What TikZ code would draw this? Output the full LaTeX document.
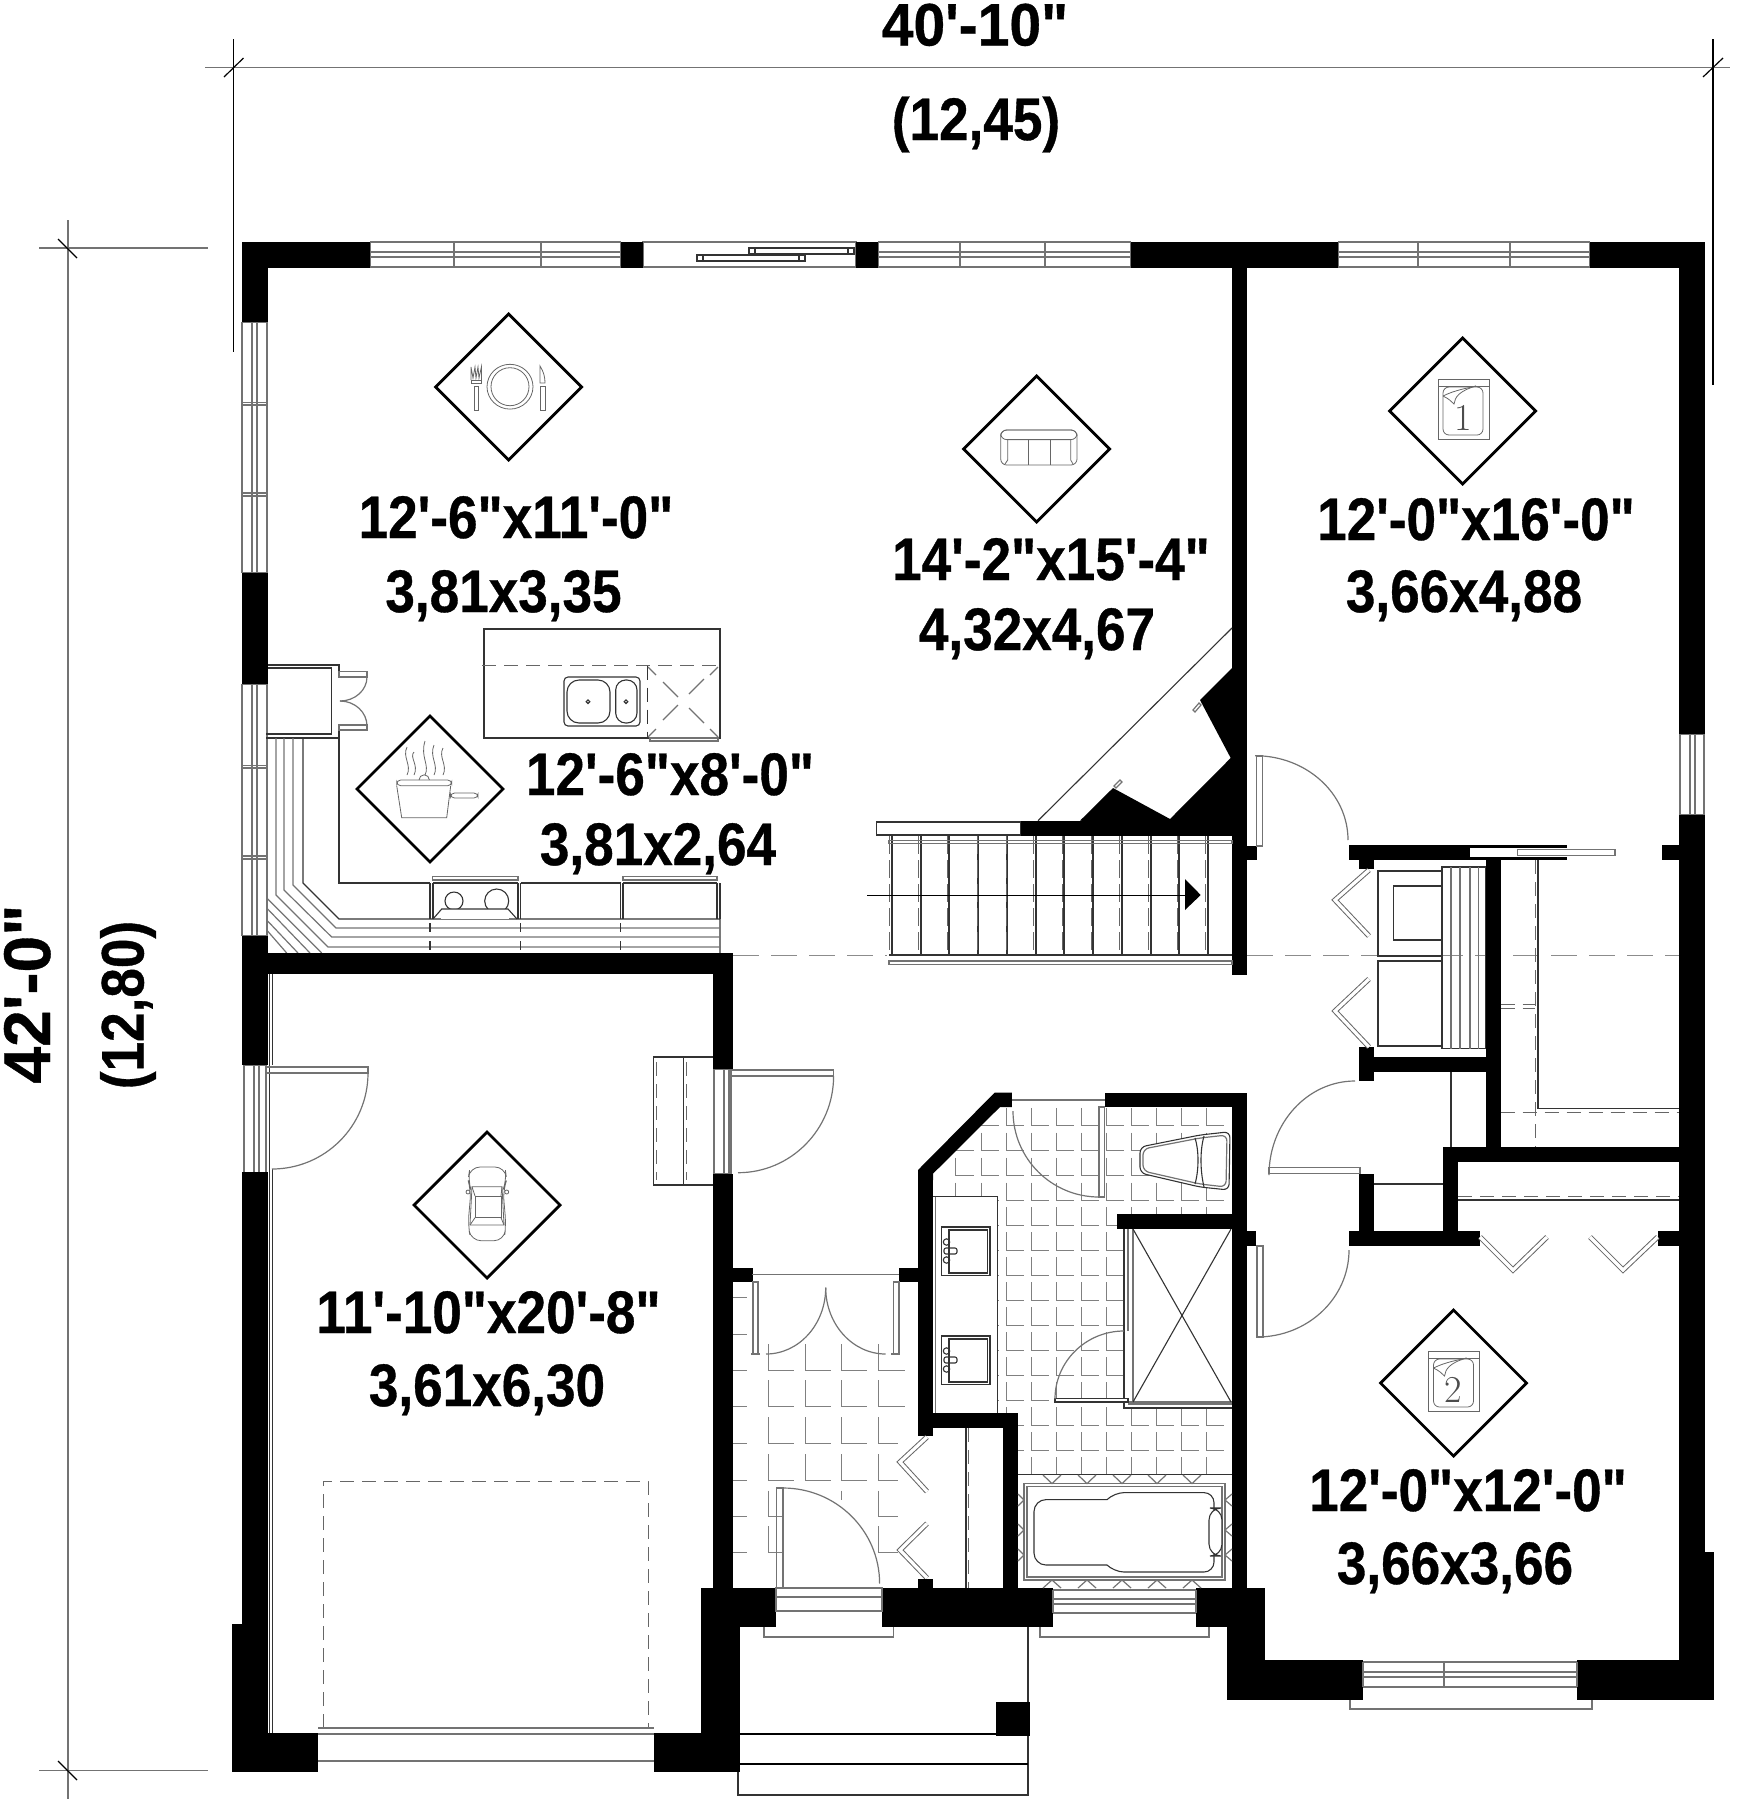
\documentclass[tikz,border=0pt]{standalone}
\usepackage{fontspec}
\newfontfamily\lab[FakeStretch=0.885,FakeBold=0.6,Ligatures=TeXOff]{Liberation Sans}
\newfontfamily\labw[FakeStretch=0.95,FakeBold=0.6,Ligatures=TeXOff]{Liberation Sans}
\newfontfamily\labh[FakeStretch=1.0,FakeBold=0.6,Ligatures=TeXOff]{Liberation Sans}
\tikzset{
  ln/.style={line width=0.55pt,draw=black!80},
  gl/.style={line width=0.6pt,draw=black!55},
  dl/.style={line width=0.6pt,draw=black!45,dash pattern=on 13pt off 6pt},
  ds/.style={line width=0.5pt,draw=black!60,dash pattern=on 7pt off 4pt},
  wall/.style={fill=black},
  dim/.style={line width=0.7pt,draw=black!55},
  tick/.style={line width=0.6pt,draw=black},
  tile/.style={line width=0.5pt,draw=black!50},
  dia/.style={line width=1.4pt,draw=black,miter limit=10},
  ic/.style={line width=0.4pt,draw=black!60},
  rm/.style={font=\lab\bfseries\fontsize{30}{30}\selectfont,anchor=base,inner sep=0pt},
  rmw/.style={font=\labw\bfseries\fontsize{30}{30}\selectfont,anchor=base,inner sep=0pt},
  rmh/.style={font=\labh\bfseries\fontsize{33}{33}\selectfont,anchor=base,inner sep=0pt},
}
\newcommand\W[4]{\fill[wall] (#1,#2) rectangle (#3,#4);}
\newcommand\ahv[4]{\draw[gl] (#1,#2) .. controls ({#1+0.5523*(#3-#1)},#2) and (#3,{#4-0.5523*(#4-#2)}) .. (#3,#4);}
\newcommand\avh[4]{\draw[gl] (#1,#2) .. controls (#1,{#2+0.5523*(#4-#2)}) and ({#3-0.5523*(#3-#1)},#4) .. (#3,#4);}
\newcommand\winH[4]{\draw[gl] (#1,#3) -- (#2,#3) (#1,{#3+10}) -- (#2,{#3+10}) (#1,{#3+15}) -- (#2,{#3+15}) (#1,#4) -- (#2,#4) (#1,#3) -- (#1,#4) (#2,#3) -- (#2,#4);}
\newcommand\winV[4]{\draw[gl] (#3,#1) -- (#3,#2) ({#3+10},#1) -- ({#3+10},#2) ({#3+15},#1) -- ({#3+15},#2) (#4,#1) -- (#4,#2) (#3,#1) -- (#4,#1) (#3,#2) -- (#4,#2);}
\newcommand\diam[2]{\draw[dia] ({#1-73},#2) -- (#1,{#2-73}) -- ({#1+73},#2) -- (#1,{#2+73}) -- cycle;}
\newcommand\bedicon[4]{\begin{scope}[shift={(#1,#2)}]
  \draw[ic] (-25,-32) rectangle (26,28);
  \draw[ic] (-25,-25) -- (26,-25);
  \draw[ic,rounded corners=3pt] (-20,-24) rectangle (20,24);
  \draw[ic] (-20,-15) .. controls (-8,-21) and (5,-23) .. (13,-25);
  \draw[ic] (-20,-15) .. controls (-14,-12) and (-12,-10) .. (-9,-7) .. controls (-8,-14) and (-4,-20) .. (13,-25);
  \node[inner sep=0pt,text=black!70,font=\fontsize{19}{19}\selectfont] (#4) at (0,7) {#3};
\end{scope}}
\newcommand\bifold[6]{\draw[line width=2.6pt,draw=black!60] (#1,#2) -- (#3,#4) -- (#5,#6);\draw[line width=1.6pt,draw=white] (#1,#2) -- (#3,#4) -- (#5,#6);}
\newcommand\sinkb[1]{\begin{scope}[shift={(0,#1)}]
  \draw[ln] (941.8,0) rectangle (990,48.5);
  \draw[ln] (949,3) rectangle (987.5,46);
  \draw[ln,rounded corners=1pt] (944,21) rectangle (957,27);
  \draw[ln] (946.5,15) circle (1.6pt);
  \draw[ln] (946.5,33) circle (1.6pt);
\end{scope}}
\begin{document}
\begin{tikzpicture}[x=0.5pt,y=-0.5pt]
\useasboundingbox (0,0) rectangle (1743,1800);
% dimensions
\draw[dim] (205,67.5) coordinate (dt1) -- (1730,67.5) coordinate (dt2);
\draw[tick] (233.5,39) -- (233.5,352);
\draw[tick] (1713,39) -- (1713,385);
\draw[tick] (224,77) -- (243.5,58);
\draw[tick] (1703,77) -- (1723,58);
\draw[dim] (68,220) -- (68,1799);
\draw[dim] (39,248) -- (208,248);
\draw[dim] (39,1770.5) -- (208,1770.5);
\draw[tick] (58,239) -- (77,258);
\draw[tick] (58,1761) -- (77,1780);
\node[rmw] (dimw) at (975,45.5) {40'-10"};
\node[rm] (dimwm) at (976,140) {(12,45)};
\node[rmh,rotate=90] (dimh) at (50,994) {42'-0"};
\node[rm,rotate=90] (dimhm) at (143.5,1005) {(12,80)};
% tiles bath
\begin{scope}
\clip (933,1173) -- (1000,1107) -- (1232,1107) -- (1232,1475) -- (1018,1475) -- (1018,1413) -- (933,1413) -- cycle;
\foreach \x in {955.7,981,1006.4,1031.4,1056,1081,1106,1131,1156,1181,1206}
  \foreach \y in {1125.8,1150.6,1175.7,1200.5,1225.3,1250,1275,1300,1325,1350,1375,1400,1425,1450,1475}
    \draw[tile] (\x,\y-18) -- (\x,\y) -- (\x+18,\y);
\end{scope}
% tiles foyer
\foreach \x in {768,805,841,878.6}
  \foreach \y in {1370,1406,1443,1480,1516.6,1552}
    \draw[tile] (\x,\y-26) -- (\x,\y) -- (\x+26,\y);
\foreach \y in {1297,1334,1370,1406,1443,1480,1516.6,1552}
  \draw[tile] (733,\y) -- (747,\y);
\fill[white] (784,1489) rectangle (830,1588);
\fill[white] (830,1500) rectangle (875,1588);
\fill[white] (898,1437) rectangle (935,1588);
% windows
\winH{370}{621}{242}{267}
\draw[gl] (454,242) -- (454,267) (541,242) -- (541,267);
\draw[gl] (643,242) rectangle (856,267);
\draw[ln] (749,248) rectangle (854,254);
\draw[ln] (697,255) rectangle (805,261);
\draw[ln] (697,255) rectangle (703,261) (799,255) rectangle (805,261) (749,248) rectangle (755,254) (848,248) rectangle (854,254);
\winH{878}{1131}{242}{267}
\draw[gl] (960,242) -- (960,267) (1045,242) -- (1045,267);
\winH{1338}{1590}{242}{267}
\draw[gl] (1418,242) -- (1418,267) (1510,242) -- (1510,267);
\winV{322}{573}{242}{267}
\draw[gl] (242,402.7) -- (267,402.7) (242,405) -- (267,405) (242,493) -- (267,493) (242,496) -- (267,496);
\winV{684}{936}{242}{267}
\draw[gl] (242,765.7) -- (267,765.7) (242,768) -- (267,768) (242,856) -- (267,856) (242,859) -- (267,859);
\winV{1065}{1173}{244}{266}
\draw[ln] (272.5,974) -- (272.5,1065) (272.5,1169) -- (272.5,1733) (269.5,974) -- (269.5,1733);
\winV{1069}{1174}{714}{731}
\winV{734}{815}{1680}{1704}
% garage door + dashed
\draw[ds] (323,1728) -- (323,1481) -- (648,1481) -- (648,1728);
\draw[gl] (318,1728) -- (654,1728) (318,1734) -- (654,1734) (318,1761) -- (654,1761);
% landing
\draw[ln] (713,1057) -- (653.7,1057) -- (653.7,1185) -- (713,1185);
\draw[ln] (683.4,1057) -- (683.4,1185);
\draw[ds] (656.5,1062) -- (656.5,1180) (686.5,1062) -- (686.5,1180);
% garage doors
\draw[gl] (265.6,1067) rectangle (368,1073);
\avh{368}{1073}{272}{1169}
\draw[gl] (731,1070) rectangle (833.6,1076);
\avh{833.6}{1076}{738}{1172.7}
% long dashed
\draw[dl] (733,955.5) -- (887,955.5);
\draw[dl] (1247,955.5) -- (1679,955.5);
% pantry
\draw[ln] (268,665) -- (339,665) -- (339,672) (268,668) -- (331.7,668) -- (331.7,734) -- (266,734) (266,738) -- (339,738) -- (339,726);
\draw[gl] (339,671.7) rectangle (367,677) (339,725) rectangle (367,730);
\avh{367}{677}{340}{701}
\avh{367}{726}{340}{701}
% kitchen counter
\draw[ln] (339,738) -- (339,883) -- (430,883) (520.7,883) -- (620.7,883);
\draw[ln] (303,738) -- (303,883) -- (339,919) -- (720,919) -- (720,953);
\draw[gl] (293,738) -- (293,885) -- (336,928) -- (720,928);
\draw[gl] (284,738) -- (284,890) -- (331.7,937) -- (720,937);
\draw[gl] (276,738) -- (276,895) -- (328,947) -- (720,947);
\draw[gl] (266.7,898) -- (321.7,953) (266.7,908) -- (310,953) (266.7,920) -- (298,953) (266.7,930) -- (286.7,953);
% range
\draw[ln] (430,883) -- (430,919) (433,883) -- (433,919) (518,883) -- (518,919) (520.7,883) -- (520.7,919);
\draw[ln] (433,883) -- (518,883);
\draw[gl] (432.7,876.7) rectangle (518,880);
\draw[ln] (454,901) circle (4.5pt);
\draw[ln] (496.7,901) circle (6pt);
\fill[white] (441,909.3) rectangle (509,919);
\draw[ln] (433,919) -- (441.7,909) -- (508,909) -- (517,919);
% dishwasher
\draw[ln] (620.7,883) -- (620.7,919) (623,883) -- (623,919) (717,883) -- (717,919) (720,883) -- (720,919);
\draw[ln] (623,883) -- (717,883);
\draw[gl] (623,876.7) rectangle (717,880);
\foreach \x in {430,520.7,620.7} \draw[ln] (\x,923) -- (\x,932) (\x,941) -- (\x,950);
% island
\draw[ln] (484,629) rectangle (720,738);
\draw[ds] (482,665.7) -- (720,665.7);
\draw[ds,draw=black!80] (647,665.7) -- (647,738);
\draw[gl] (650,741) rectangle (718,738);
\draw[gl] (648,667) -- (656,675) (718,667) -- (710,675) (648,737) -- (656,729) (718,737) -- (710,729);
\draw[gl] (663,720) -- (678,705) (689,694) -- (704,679) (663,682) -- (678,697) (689,708) -- (704,723);
\draw[ln,rounded corners=2pt] (564,677) rectangle (640,726);
\draw[ln,rounded corners=6pt] (567,680) rectangle (610,723);
\draw[ln,rounded corners=5pt] (615.7,680) rectangle (637,723);
\draw[ln] (588,701.7) circle (0.9pt) (626,701.7) circle (0.9pt);
% walls NW
\W{242}{242}{370}{268}
\W{242}{242}{268}{322}
\W{621}{242}{643}{268}
\W{856}{242}{878}{268}
\W{1131}{242}{1338}{268}
\W{1590}{242}{1705}{268}
\W{242}{573}{268}{684}
\W{242}{936}{268}{974}
\W{242}{953}{733}{974}
\W{713}{953}{733}{1069}
\W{242}{974}{268}{1065}
\W{242}{1172}{268}{1624}
\W{232}{1624}{268}{1772}
\W{232}{1733}{318}{1772}
\W{654}{1733}{740}{1772}
\W{701}{1627}{740}{1733}
\W{701}{1588}{776}{1627}
\W{713}{1174}{733}{1588}
\W{882}{1588}{1053}{1627}
\W{1196}{1588}{1265}{1627}
\W{1227}{1627}{1265}{1660}
\W{1227}{1660}{1363}{1700}
\W{1577}{1660}{1714}{1700}
\W{1679}{1552}{1714}{1660}
\W{1679}{242}{1705}{734}
\W{1679}{815}{1705}{1552}
\W{1661.7}{845}{1679}{860}
\W{1232}{268}{1247}{975}
\W{1247}{845.7}{1257}{860}
% stairs
\draw[ln] (1038,820.7) -- (1232,628);
\draw[ln,fill=white] (876.7,822) rectangle (1020.7,835);
\W{1020.7}{820.7}{1232}{836}
\fill[black] (1232,668) -- (1200,700) -- (1230.7,758) -- (1170,819) -- (1113,788) -- (1080,820.7) -- (1232,825) -- cycle;
\draw[gl,fill=white] (1193,710) -- (1199,703) -- (1201,705) -- (1195,712) -- cycle;
\draw[gl,fill=white] (1114,786) -- (1120,780) -- (1122,782) -- (1116,788) -- cycle;
\foreach \x in {892,921,949,978,1007,1036,1064,1093,1122,1151,1179,1208} \draw[ln] (\x,836) -- (\x,955);
\foreach \x in {889,918,947,977,1006,1033,1062,1091,1119,1148,1177,1205} \draw[ds,dash pattern=on 9pt off 3pt] (\x,836) -- (\x,955);
\draw[ln] (889,955) -- (1232,955);
\draw[gl] (889,840.7) rectangle (1232,843.7);
\draw[gl] (889,961) rectangle (1232,964.7);
\draw[line width=0.4pt,draw=black] (867,895) -- (1185,895);
\fill[black] (1185,879) -- (1185,910) -- (1200.7,895) -- cycle;
% bedroom 1 door
\draw[gl] (1256.7,756) rectangle (1262.7,846);
\ahv{1255}{755.7}{1348}{840}
% closets
\W{1349.3}{845}{1470}{860}
\W{1470}{845}{1566.7}{848}
\W{1470}{857}{1566.7}{860}
\draw[gl,fill=white] (1517.7,849.6) rectangle (1615,855.4);
\W{1359}{860}{1374}{869}
\W{1486}{860}{1500.7}{1147}
\W{1359}{1057}{1486}{1072}
\W{1359}{1047}{1374}{1081}
\W{1443}{1147}{1679}{1162}
\W{1443}{1147}{1458}{1231.4}
\W{1349}{1231.4}{1480}{1246}
\W{1359}{1173.6}{1374}{1231.4}
\W{1657.7}{1231.4}{1679}{1246}
\draw[ln] (1451,1072) -- (1451,1147) (1374,1184) -- (1443,1184);
\bifold{1369}{870}{1335}{900}{1369}{936}
\bifold{1369}{979}{1335}{1011}{1369}{1047}
\draw[ln] (1378,871) rectangle (1442,956);
\draw[ln] (1378,961) rectangle (1442,1046);
\draw[ln] (1393.7,886) rectangle (1442,940);
\draw[ln] (1442,867) rectangle (1485.7,1048.6);
\foreach \x in {1451,1460,1470,1478.7} \draw[gl] (\x,867) -- (\x,1048.6);
\draw[ds] (1535,860) -- (1535,1147);
\draw[ln] (1538,860) -- (1538,1108.6) -- (1679,1108.6);
\draw[ds] (1500.7,1112) -- (1679,1112);
\draw[ds] (1500.7,1004) -- (1535,1004) (1500.7,1008) -- (1535,1008);
% closet door
\draw[gl] (1269,1167.5) rectangle (1360,1173.6);
\ahv{1355}{1081}{1269}{1175}
% bedroom 2 door etc
\W{1247}{1231}{1256}{1246}
\draw[gl] (1257,1246) rectangle (1263,1337);
\avh{1349}{1250}{1257}{1337}
\bifold{1480}{1237}{1513}{1270}{1547}{1237}
\bifold{1590}{1237}{1623}{1270}{1657.7}{1237}
\draw[ds] (1458,1196.8) -- (1679,1196.8);
\draw[ln] (1458,1200) -- (1679,1200);
% foyer
\W{733}{1267.7}{752.5}{1282}
\W{899}{1267.7}{933}{1282}
\draw[gl] (752,1274.6) -- (899,1274.6);
\draw[gl] (753,1282) rectangle (758,1354) (893.5,1282) rectangle (899,1354);
\draw[gl] (751,1354) -- (760,1354) (891,1354) -- (900,1354);
\ahv{766}{1354}{825.7}{1287.6}
\ahv{885.7}{1354}{825.7}{1287.6}
\W{918}{1170}{933}{1436}
\fill[black] (918,1170) -- (994.6,1092.7) -- (1011.8,1092.7) -- (1011.8,1107) -- (1000,1107) -- (933,1173.7) -- (933,1180) -- (918,1180) -- cycle;
\W{1104.6}{1092.7}{1247}{1107}
\W{1232}{1092.7}{1247}{1588}
\W{1117}{1213.8}{1232}{1229}
\W{918}{1412.8}{1018}{1428}
\W{1003}{1412.8}{1018}{1588}
\W{918}{1578.6}{933}{1588}
% bath door
\draw[gl] (1012,1100) -- (1104.6,1100);
\draw[gl] (1099,1107) rectangle (1104.6,1197);
\avh{1013}{1111}{1099}{1197}
% vanity
\fill[white] (933,1196.5) rectangle (997.5,1412.8);
\draw[ln] (933,1196.5) -- (997.5,1196.5) -- (997.5,1412.8);
\draw[gl] (935.7,1196.5) -- (935.7,1412.8);
\sinkb{1227}
\sinkb{1336}
% toilet
\draw[ln,fill=white,rounded corners=3pt] (1140,1147) -- (1140,1173) -- (1200,1187) -- (1229,1190) -- (1230,1131.7) -- (1200,1135) -- cycle;
\draw[gl,rounded corners=3pt] (1143,1149) -- (1143,1171) -- (1200,1184) -- (1226,1187) -- (1227,1135) -- (1200,1138) -- cycle;
\draw[ln] (1195,1138) .. controls (1199,1150) and (1199,1170) .. (1195,1184) (1204,1136) .. controls (1200,1150) and (1200,1170) .. (1204,1187);
% shower
\fill[white] (1124,1229) rectangle (1232,1408);
\draw[ln] (1124,1229) -- (1124,1408) -- (1232,1408);
\draw[gl] (1128,1229) -- (1128,1331) (1133,1229) -- (1133,1402);
\draw[gl] (1128,1402) -- (1232,1402) (1128,1404) -- (1232,1404);
\draw[ln] (1133,1229) -- (1231,1402) (1231,1229) -- (1133,1402);
\draw[ln,fill=white] (1055,1398.5) rectangle (1128,1402);
\ahv{1124}{1331}{1055}{1399}
% tub
\fill[white] (1018,1475) rectangle (1232,1588);
\draw[ln] (1018,1474.8) -- (1232,1474.8);
\foreach \x in {1043,1078,1113,1148,1183} \draw[gl] (\x,1475) -- (\x+9,1483.6) -- (\x+18,1475) (\x,1588) -- (\x+9,1580) -- (\x+18,1588);
\foreach \y in {1500,1530,1555} \draw[gl] (1018,\y-6) -- (1024,\y) -- (1018,\y+6) (1232,\y-6) -- (1225,\y) -- (1232,\y+6);
\draw[gl] (1024,1483.6) rectangle (1225,1580);
\draw[gl] (1027,1486.6) rectangle (1222,1577);
\draw[ln,rounded corners=6pt] (1107,1499.6) -- (1034,1499.6) -- (1034,1565) -- (1107,1565);
\draw[ln,rounded corners=5pt] (1107,1499.6) -- (1114,1492.6) -- (1214,1492.6) -- (1214,1572) -- (1114,1572) -- (1107,1565);
\draw[ln,fill=white,rounded corners=6pt] (1209,1508) rectangle (1222,1556);
% south openings
\draw[gl] (776,1588) rectangle (882,1611);
\draw[gl] (776,1597) -- (882,1597);
\draw[gl] (764,1627) -- (764,1637) -- (893.5,1637) -- (893.5,1627);
\draw[gl] (1053,1590) -- (1196,1590) (1053,1599) -- (1196,1599) (1053,1604) -- (1196,1604) (1053,1613) -- (1196,1613) (1053,1590) -- (1053,1613) (1196,1590) -- (1196,1613);
\draw[gl] (1040,1627) -- (1040,1637) -- (1209,1637) -- (1209,1627);
\winH{1363}{1577}{1662}{1687}
\draw[gl] (1444,1662) -- (1444,1687);
\draw[gl] (1350,1700) -- (1350,1709) -- (1592,1709) -- (1592,1700);
% entry door
\draw[gl] (776.8,1488) rectangle (783,1588);
\ahv{783}{1488}{879.6}{1583.5}
\bifold{927}{1437}{900}{1462}{927}{1491.5}
\bifold{927}{1523.5}{900}{1550}{927}{1578}
\W{918}{1578.6}{933}{1588}
\draw[ln] (966,1428) -- (966,1588);
\draw[ds] (968.5,1428) -- (968.5,1588);
% porch
\draw[ln] (1028,1627) -- (1028,1795) -- (738,1795) -- (738,1772);
\W{996}{1702}{1030}{1736}
\draw[ln,draw=black] (740,1734) -- (996,1734) (740,1764) -- (1028,1764);
% diamonds
\diam{508.7}{387}
\diam{1036.7}{449}
\diam{1462.7}{411}
\diam{430}{789}
\diam{487}{1205}
\diam{1453.5}{1383}
% plate
\draw[ic] (510,386.7) ellipse (11.5pt and 11.2pt);
\draw[ic] (510,386.7) ellipse (9.5pt and 9.5pt);
\draw[ic] (471,383) rectangle (481.4,380);
\draw[ic] (471,380) -- (471,367) -- (473,378) -- (475,367) -- (476,378) -- (478,367) -- (479,378) -- (481.4,367) -- (481.4,380);
\draw[ic] (474,386.7) rectangle (478,410.7);
\draw[ic] (540,366) .. controls (544,372) and (545,378) .. (545,383) -- (540,383) -- cycle;
\draw[ic] (540,386.7) rectangle (545,410);
% sofa
\draw[ic,rounded corners=3pt] (1000.7,430) rectangle (1077,465);
\draw[ic,rounded corners=3pt] (1000.7,430) rectangle (1077,439.6);
\draw[ic] (1007.7,439.6) -- (1007.7,460) -- (1005,464) (1070.7,439.6) -- (1070.7,460) -- (1073,464);
\draw[ic] (1028,439.6) -- (1028,465) (1050,439.6) -- (1050,465);
% pot
\draw[ic] (396.7,785.7) -- (401.7,817.7) -- (446.7,817.7) -- (450.7,785.7);
\draw[ic,rounded corners=2pt] (396.7,780) rectangle (451.7,785.7);
\draw[ic] (419,780) arc[start angle=180,end angle=0,radius=2.6pt];
\draw[ic,rounded corners=2pt] (450.5,793) rectangle (478,798);
\foreach \x/\t in {407/747,414/752,425/741,434/745,443/748}
  \draw[ic] (\x,775) .. controls (\x+5,765) and (\x-5,757) .. (\x,\t);
% beds
\bedicon{1463}{411}{1}{nb1}
\bedicon{1453.5}{1383}{2}{nb2}
% car
\draw[ic,rounded corners=5pt] (471,1190) -- (468,1180) -- (470,1167) -- (505,1167) -- (506.7,1180) -- (503,1190) -- (506,1225) -- (504,1240.7) -- (471,1240.7) -- (468,1225) -- cycle;
\draw[ic] (472,1186.7) -- (502,1186.7) -- (504,1225) -- (470,1225) -- cycle;
\draw[ic] (475,1196) rectangle (501,1217.7);
\draw[ic] (472,1186.7) -- (475,1196) (502,1186.7) -- (501,1196) (470,1225) -- (475,1217.7) (504,1225) -- (501,1217.7);
\draw[ic] (468,1192) circle (1pt) (506.7,1192) circle (1pt);
% labels
\node[rm] (t1a) at (516,538) {12'-6"x11'-0"};
\node[rm] (t1b) at (503.5,612) {3,81x3,35};
\node[rm] (t2a) at (1051,580) {14'-2"x15'-4"};
\node[rm] (t2b) at (1037,650) {4,32x4,67};
\node[rm] (t3a) at (1476,540) {12'-0"x16'-0"};
\node[rm] (t3b) at (1464,612) {3,66x4,88};
\node[rm] (t4a) at (670,795) {12'-6"x8'-0"};
\node[rm] (t4b) at (658,865) {3,81x2,64};
\node[rm] (t5a) at (488.5,1333) {11'-10"x20'-8"};
\node[rm] (t5b) at (487,1406) {3,61x6,30};
\node[rm] (t6a) at (1468,1511) {12'-0"x12'-0"};
\node[rm] (t6b) at (1455,1584) {3,66x3,66};
\end{tikzpicture}
\end{document}
